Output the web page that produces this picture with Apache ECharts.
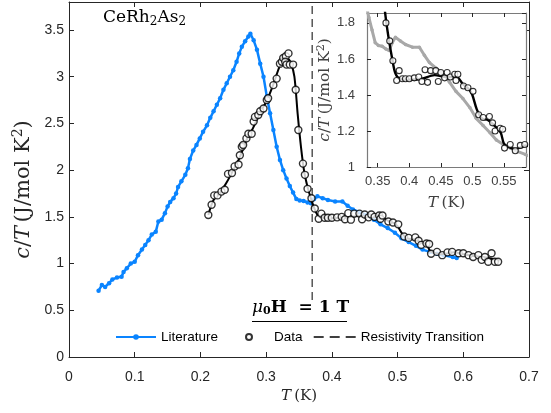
<!DOCTYPE html>
<html>
<head>
<meta charset="utf-8">
<script src="https://cdn.jsdelivr.net/npm/echarts@6/dist/echarts.min.js"></script>
<style>html,body{margin:0;padding:0;background:#fff}#c{width:551px;height:413px}</style>
</head>
<body>
<div id="c"></div>
<script>
// ---- Literature (blue / gray in inset)
const litT = [0.045,0.050,0.055,0.061,0.066,0.073,0.080,0.083,0.088,0.094,0.100,0.105,0.111,0.116,0.121,0.126,0.132,0.136,0.141,0.146,0.150,0.154,0.159,0.163,0.166,0.171,0.177,0.181,0.184,0.189,0.194,0.199,0.204,0.210,0.215,0.220,0.225,0.230,0.235,0.240,0.245,0.250,0.255,0.259,0.263,0.268,0.273,0.276,0.281,0.286,0.291,0.296,0.301,0.306,0.311,0.316,0.321,0.326,0.331,0.336,0.341,0.346,0.351,0.357,0.363,0.368,0.373,0.378,0.386,0.394,0.405,0.416,0.424,0.432,0.442,0.453,0.464,0.474,0.485,0.496,0.506,0.517,0.528,0.538,0.549,0.560,0.570,0.584,0.590];
const litC = [0.71,0.77,0.75,0.79,0.83,0.85,0.86,0.91,0.95,1.00,1.02,1.09,1.15,1.20,1.25,1.31,1.34,1.45,1.47,1.54,1.61,1.66,1.70,1.75,1.82,1.88,1.95,2.02,2.12,2.21,2.27,2.34,2.41,2.48,2.56,2.63,2.70,2.77,2.86,2.93,3.00,3.07,3.16,3.25,3.32,3.38,3.43,3.46,3.39,3.29,3.14,3.00,2.79,2.61,2.43,2.25,2.11,2.00,1.91,1.83,1.76,1.69,1.675,1.67,1.655,1.647,1.69,1.72,1.70,1.68,1.665,1.665,1.62,1.58,1.55,1.52,1.47,1.42,1.38,1.33,1.27,1.23,1.19,1.15,1.125,1.106,1.088,1.07,1.06];
// ---- Data (open circles)
const dataT = [0.212,0.217,0.221,0.226,0.232,0.237,0.242,0.248,0.252,0.258,0.260,0.263,0.265,0.270,0.273,0.278,0.281,0.283,0.288,0.291,0.296,0.301,0.303,0.311,0.316,0.321,0.324,0.326,0.330,0.334,0.329,0.331,0.336,0.341,0.345,0.349,0.356,0.359,0.363,0.369,0.374,0.380,0.384,0.389,0.394,0.400,0.408,0.415,0.420,0.425,0.429,0.434,0.442,0.446,0.450,0.456,0.460,0.465,0.472,0.474,0.477,0.486,0.493,0.501,0.510,0.517,0.527,0.532,0.536,0.544,0.548,0.551,0.560,0.568,0.576,0.583,0.593,0.600,0.608,0.615,0.623,0.628,0.633,0.638,0.643,0.648,0.653];
const dataC = [1.52,1.63,1.73,1.73,1.77,1.79,1.96,1.97,2.04,2.06,2.16,2.25,2.27,2.34,2.39,2.39,2.52,2.57,2.59,2.63,2.66,2.75,2.77,2.91,2.98,3.14,3.16,3.20,3.22,3.25,3.16,3.13,3.13,3.13,2.86,2.43,2.07,1.95,1.80,1.70,1.59,1.48,1.535,1.49,1.49,1.49,1.495,1.50,1.475,1.54,1.47,1.535,1.535,1.475,1.525,1.495,1.525,1.50,1.515,1.48,1.515,1.45,1.44,1.42,1.29,1.275,1.28,1.245,1.20,1.215,1.21,1.105,1.125,1.09,1.12,1.125,1.11,1.11,1.09,1.07,1.09,1.04,1.07,1.02,1.11,1.02,1.02];
// ---- Smoothed data curve (black line)
const fitT = [0.212,0.220,0.230,0.240,0.250,0.260,0.270,0.280,0.290,0.300,0.310,0.320,0.327,0.333,0.338,0.343,0.348,0.353,0.358,0.363,0.368,0.373,0.378,0.385,0.400,0.420,0.440,0.460,0.475,0.485,0.495,0.500,0.507,0.515,0.525,0.535,0.545,0.550,0.558,0.568,0.578,0.585,0.600,0.615,0.630,0.645,0.655];
const fitC = [1.52,1.68,1.76,1.87,2.00,2.14,2.32,2.45,2.61,2.73,2.90,3.10,3.18,3.19,3.14,3.00,2.60,2.25,1.98,1.82,1.70,1.60,1.52,1.49,1.485,1.49,1.51,1.50,1.50,1.46,1.43,1.40,1.32,1.27,1.26,1.23,1.19,1.13,1.11,1.10,1.11,1.12,1.10,1.08,1.07,1.05,1.03];
// ---- Resistivity transition
const resT = [0.37, 0.37];
const resC = [0.61, 3.8];
// ---- Ticks
const insetXTicks = [0.35,0.4,0.45,0.5,0.55];

const zip = (a,b) => a.map((v,i)=>[v,b[i]]);
const SANS = '"Liberation Sans", Arial, sans-serif';
const SERIF = '"DejaVu Serif", "Liberation Serif", serif';
const AX = '#262626';
const BLUE = '#0a84ff';
const GRAY = '#a8a8a8';

const chart = echarts.init(document.getElementById('c'));

function mkAxis(base, extra){ return Object.assign({}, base, extra); }

const mainX = {type:'value', gridIndex:0, min:0, max:0.7, interval:0.1,
  axisLine:{show:true,onZero:false,lineStyle:{color:AX,width:1}},
  axisTick:{show:true,inside:true,length:5,lineStyle:{color:AX}},
  splitLine:{show:false},
  axisLabel:{color:AX,fontFamily:SANS,fontSize:14,margin:13}};
const mainY = {type:'value', gridIndex:0, min:0, max:3.8, interval:0.5,
  axisLine:{show:true,onZero:false,lineStyle:{color:AX,width:1}},
  axisTick:{show:true,inside:true,length:5,lineStyle:{color:AX}},
  splitLine:{show:false},
  axisLabel:{color:AX,fontFamily:SANS,fontSize:14,margin:5,showMaxLabel:false}};
const IAX = '#7a7a7a';
const insX = {type:'value', gridIndex:1, min:0.333, max:0.585,
  axisLine:{show:true,onZero:false,lineStyle:{color:IAX,width:1.2}},
  axisTick:{show:true,inside:true,length:4,lineStyle:{color:AX},customValues:insetXTicks},
  splitLine:{show:false},
  axisLabel:{color:'#404040',fontFamily:SANS,fontSize:13,margin:8,customValues:insetXTicks}};
const insY = {type:'value', gridIndex:1, min:1, max:1.855, interval:0.2,
  axisLine:{show:true,onZero:false,lineStyle:{color:IAX,width:1.2}},
  axisTick:{show:true,inside:true,length:4,lineStyle:{color:AX}},
  splitLine:{show:false},
  axisLabel:{color:'#404040',fontFamily:SANS,fontSize:13,margin:12,showMaxLabel:false}};

const richLab = (fs, col) => ({
  i:{fontFamily:SERIF,fontStyle:'italic',fontSize:fs,color:col},
  n:{fontFamily:SERIF,fontSize:fs,color:col},
  sup:{fontFamily:SERIF,fontSize:Math.round(fs*0.68),color:col,verticalAlign:'top',padding:[0,0,Math.round(fs*0.45),0]}
});

const legText = {fontFamily:SANS,fontSize:13.5,color:'#000'};

chart.setOption({
  animation:false,
  backgroundColor:'#fff',
  grid:[
    {left:69, top:2, width:460, height:355, show:false, z:0},
    {left:367, top:13, width:159, height:154, show:true, backgroundColor:'#fff', borderWidth:0, z:5}
  ],
  xAxis:[
    mkAxis(mainX,{name:'{i|T} {n|(K)}', nameLocation:'middle', nameGap:31,
      nameTextStyle:{rich:richLab(15, AX)}}),
    mkAxis(mainX,{position:'top', axisLabel:{show:false}}),
    mkAxis(insX,{name:'{i|T} {n|(K)}', nameLocation:'middle', nameGap:28, z:6,
      nameTextStyle:{rich:richLab(15.5, '#404040')}}),
    mkAxis(insX,{position:'top', axisLabel:{show:false}, z:6})
  ],
  yAxis:[
    mkAxis(mainY,{name:'{i|c}{n|/}{i|T} {n|(J/mol K}{sup|2}{n|)}', nameLocation:'middle', nameGap:28,
      nameTextStyle:{rich:richLab(21, AX), padding:[0,20,0,0]}}),
    mkAxis(mainY,{position:'right', axisLabel:{show:false}}),
    mkAxis(insY,{name:'{i|c}{n|/}{i|T} {n|(J/mol K}{sup|2}{n|)}', nameLocation:'middle', nameGap:25, z:6,
      nameTextStyle:{rich:richLab(15.5, '#404040')}}),
    mkAxis(insY,{position:'right', axisLabel:{show:false}, z:6})
  ],
  legend:[
    {left:115, top:330, padding:0, data:['Literature'], itemWidth:40, itemHeight:7, textStyle:legText},
    {left:245, top:330, padding:0, data:['Data'], itemWidth:40, itemHeight:6, textStyle:legText},
    {left:313, top:330, padding:0, itemWidth:42, itemHeight:8, textStyle:legText,
      lineStyle:{type:[10,6],width:1.4,color:'#000',opacity:1},
      data:[{name:'Resistivity Transition', itemStyle:{color:'rgba(0,0,0,0)',borderColor:'rgba(0,0,0,0)',borderWidth:0}}]}
  ],
  graphic:[
    {type:'text', left:103, top:9, z:10, style:{
      text:'{n|CeRh}{s|2}{n|As}{s|2}',
      rich:{n:{fontFamily:SERIF,fontSize:17,color:'#000'},
            s:{fontFamily:SERIF,fontSize:12,color:'#000',padding:[8,0,0,0]}}}},
    {type:'text', left:252, top:299, z:10, style:{
      text:'{m|μ}{s|0}{b|H  = 1 T}',
      rich:{m:{fontFamily:SERIF,fontStyle:'italic',fontSize:17,color:'#000'},
            s:{fontFamily:SERIF,fontWeight:'bold',fontSize:11,color:'#000',padding:[7,0,0,0]},
            b:{fontFamily:SERIF,fontWeight:'bold',fontSize:17,color:'#000'}}}},
    {type:'line', z:10, shape:{x1:252,y1:321.5,x2:347,y2:321.5}, style:{stroke:'#000',lineWidth:1.2}}
  ],
  series:[
    {name:'Literature', type:'line', xAxisIndex:0, yAxisIndex:0, data:zip(litT,litC),
      color:BLUE, lineStyle:{width:2.5,color:BLUE}, symbol:'circle', symbolSize:4.5, showSymbol:true,
      itemStyle:{color:BLUE}, z:2},
    {name:'fit', type:'line', xAxisIndex:0, yAxisIndex:0, data:zip(fitT,fitC), smooth:0.3,
      lineStyle:{width:2,color:'#000'}, symbol:'none', z:3},
    {name:'Data', type:'scatter', xAxisIndex:0, yAxisIndex:0, data:zip(dataT,dataC),
      symbol:'circle', symbolSize:7, itemStyle:{color:'#fff',borderColor:'#000',borderWidth:1.4}, z:4},
    {name:'Resistivity Transition', type:'line', xAxisIndex:0, yAxisIndex:0, data:zip(resT,resC),
      symbol:'none', lineStyle:{type:[8,5],width:1,color:'#000'}, color:'#000', z:3},
    // inset
    {name:'litInset', type:'line', xAxisIndex:2, yAxisIndex:2, data:zip(litT,litC),
      lineStyle:{width:3,color:GRAY}, symbol:'circle', symbolSize:3.5, itemStyle:{color:GRAY}, z:7},
    {name:'fitInset', type:'line', xAxisIndex:2, yAxisIndex:2, data:zip(fitT,fitC), smooth:0.3,
      lineStyle:{width:2.4,color:'#000'}, symbol:'none', z:8},
    {name:'dataInset', type:'scatter', xAxisIndex:2, yAxisIndex:2, data:zip(dataT,dataC),
      symbol:'circle', symbolSize:6, itemStyle:{color:'#fff',borderColor:'#000',borderWidth:1.1}, z:9}
  ]
});
</script>
</body>
</html>
